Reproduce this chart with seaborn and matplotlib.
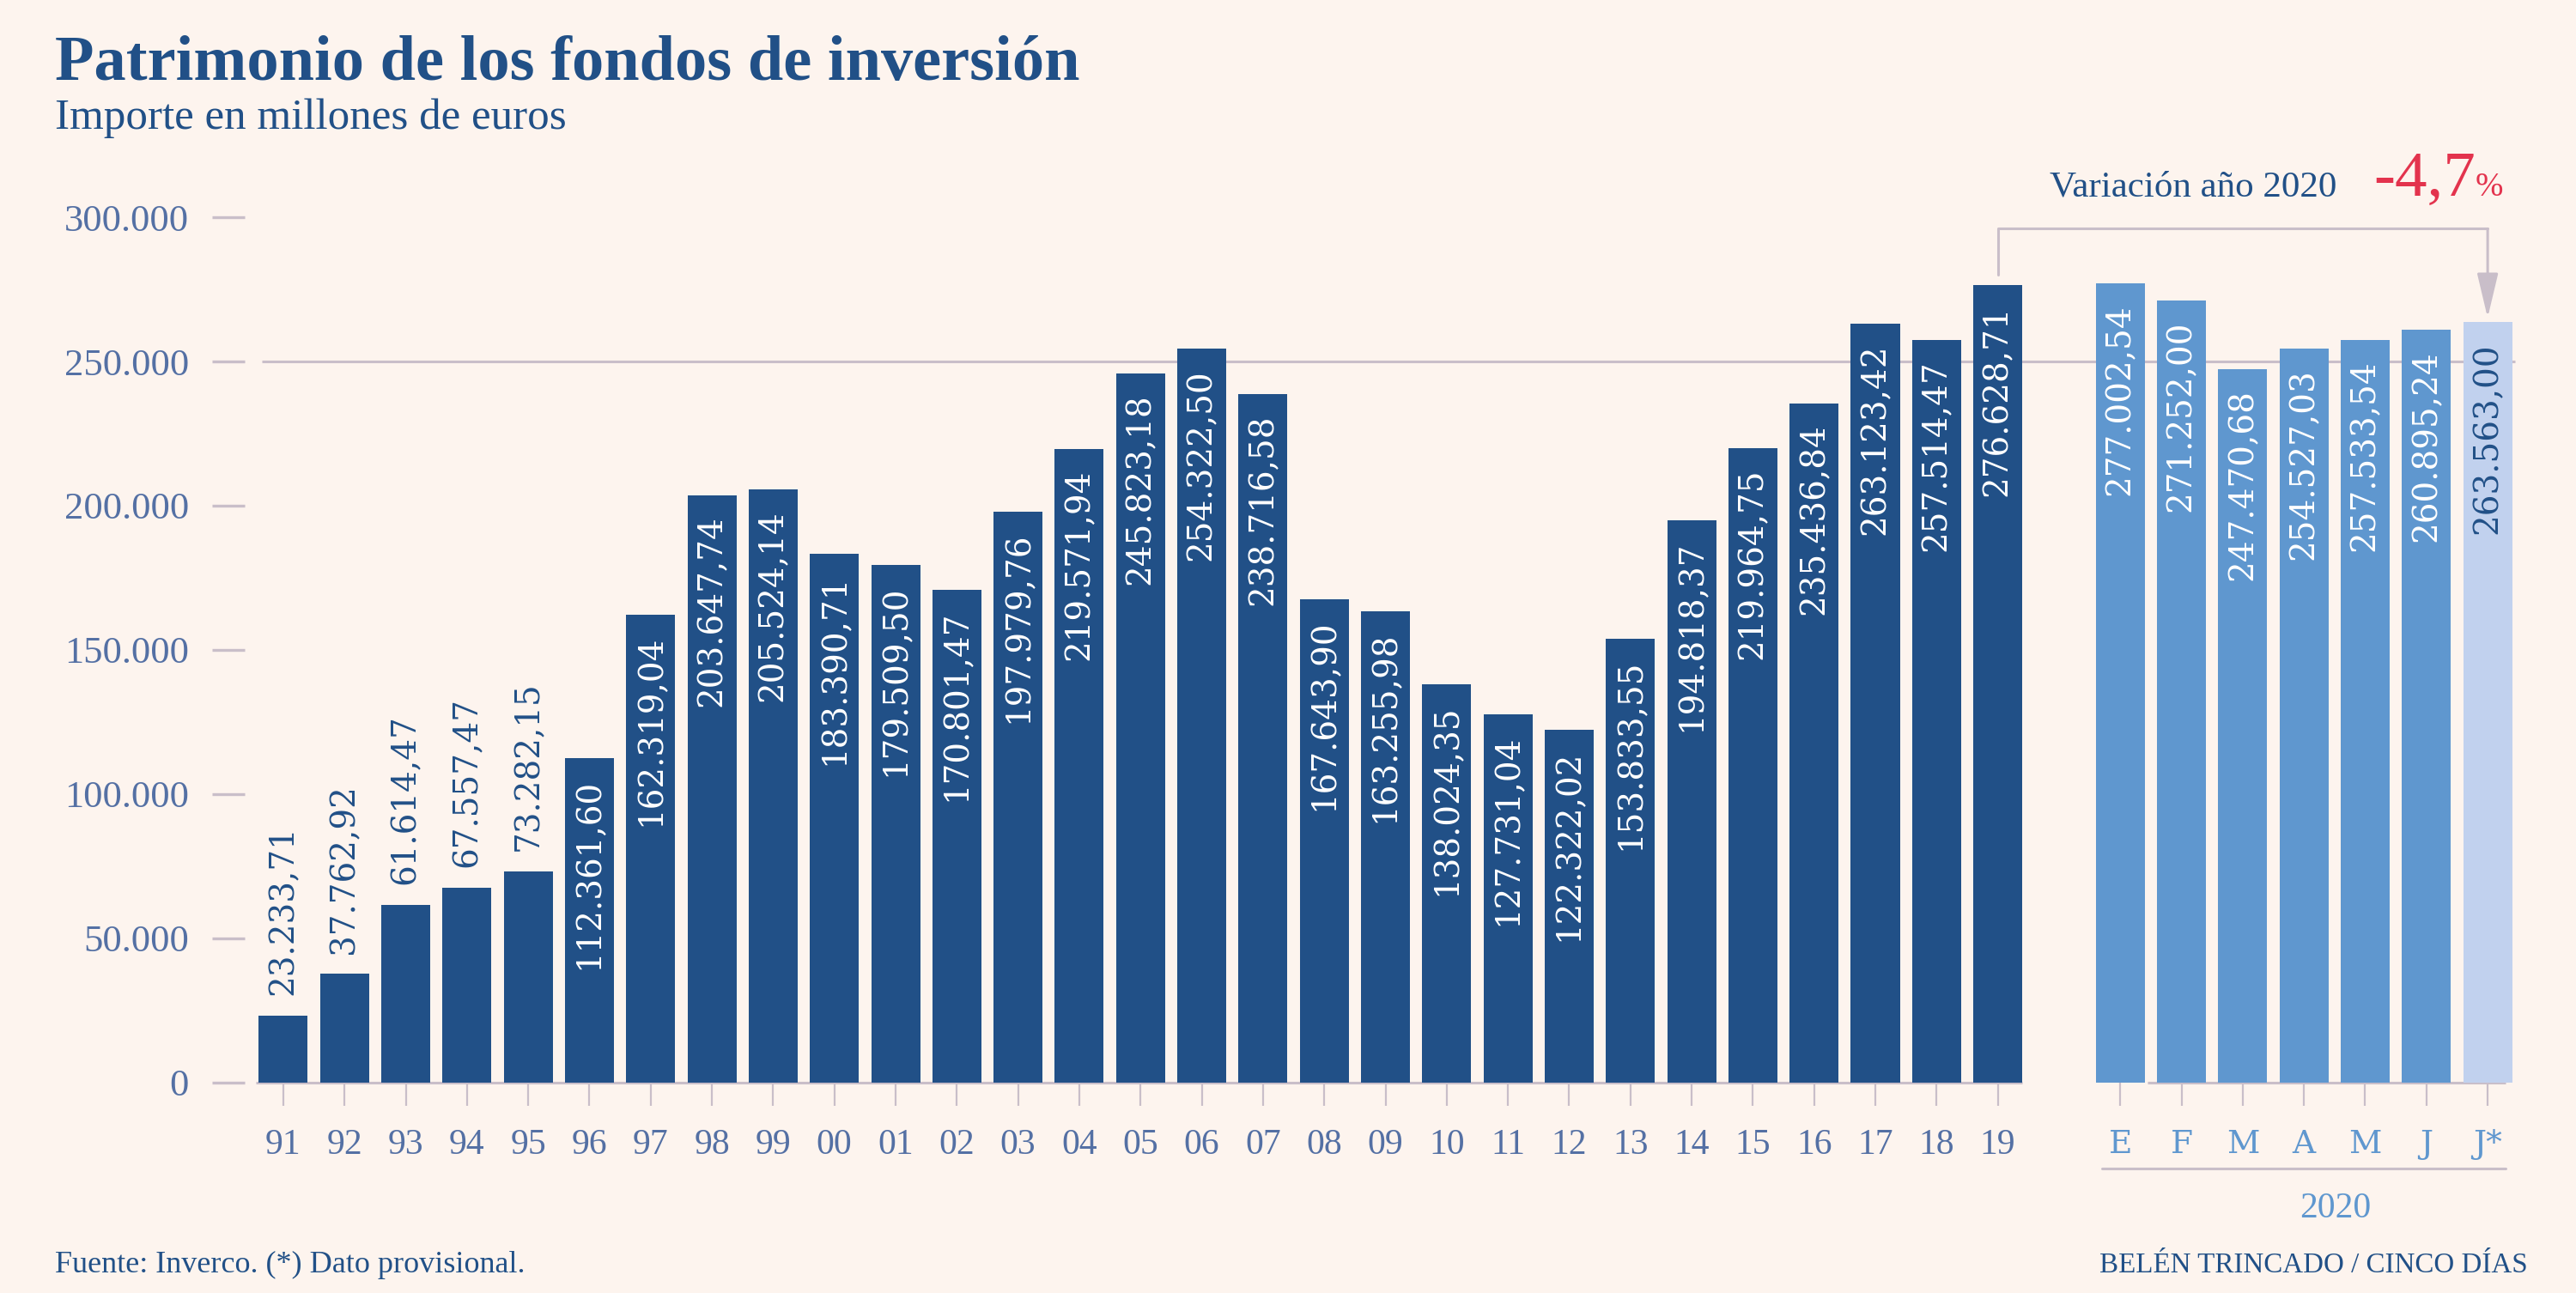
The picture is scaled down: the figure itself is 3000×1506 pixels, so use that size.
import numpy as np
import pandas as pd
import seaborn as sns
import matplotlib.pyplot as plt

# datos: patrimonio de los fondos de inversión (millones de euros)
years = ['91', '92', '93', '94', '95', '96', '97', '98', '99', '00',
         '01', '02', '03', '04', '05', '06', '07', '08', '09', '10',
         '11', '12', '13', '14', '15', '16', '17', '18', '19']
year_values = [23233.71, 37762.92, 61614.47, 67557.47, 73282.15, 112361.60,
               162319.04, 203647.74, 205524.14, 183390.71, 179509.50,
               170801.47, 197979.76, 219571.94, 245823.18, 254322.50,
               238716.58, 167643.90, 163255.98, 138024.35, 127731.04,
               122322.02, 153833.55, 194818.37, 219964.75, 235436.84,
               263123.42, 257514.47, 276628.71]
months = ['E', 'F', 'M', 'A', 'M', 'J', 'J*']
month_values = [277002.54, 271252.00, 247470.68, 254527.03, 257533.54,
                260895.24, 263563.00]
month_groups = ['2020', '2020', '2020', '2020', '2020', '2020', 'prov']
yticks = [0, 50000, 100000, 150000, 200000, 250000, 300000]

bg = '#fdf4ee'
dark = '#215087'
mid = '#5f97cf'
light = '#c1d1ee'
grey = '#c9bec9'
tick_blue = '#5470a4'
red = '#e3334d'


def es(v, dec=2):
    s = f"{v:,.{dec}f}"
    return s.replace(',', 'X').replace('.', ',').replace('X', '.')


n = len(years)
df = pd.DataFrame({
    'pos': list(range(n)) + [n + 1 + i for i in range(len(months))],
    'label': years + months,
    'value': year_values + month_values,
    'grupo': ['anual'] * n + month_groups,
})

sns.set_style('white')
plt.rcParams['font.family'] = ['Liberation Serif', 'DejaVu Serif']

fig = plt.figure(figsize=(15, 7.53), dpi=200, facecolor=bg)
ax = fig.add_axes([0.095, 0.1627, 0.8833, 0.6693])
ax.set_facecolor(bg)

sns.barplot(data=df, x='pos', y='value', hue='grupo',
            palette={'anual': dark, '2020': mid, 'prov': light},
            native_scale=True, dodge=False, width=0.8, saturation=1,
            errorbar=None, legend=False, ax=ax, zorder=2, linewidth=0)

# etiquetas de valor en vertical
gap = 7000
for pos, val, grp in zip(df.pos, df.value, df.grupo):
    if val < 80000:
        ax.text(pos, val + gap, es(val), rotation=90, ha='center', va='bottom',
                color=dark, family='DejaVu Serif', size=14, zorder=3)
    else:
        ax.text(pos, val - gap, es(val), rotation=90, ha='center', va='top',
                color=dark if grp == 'prov' else 'white',
                family='DejaVu Serif', size=14, zorder=3)

ax.set_ylim(0, 300000)
ax.set_xlim(-0.63, 36.53)
ax.set_yticks(yticks, [es(t, 0) for t in yticks])
ax.set_xticks(df.pos, df.label)
ax.set_xlabel('')
ax.set_ylabel('')
ax.tick_params(axis='x', bottom=True, length=9.7, width=0.8, color=grey,
               pad=9.7, labelsize=15, labelcolor=tick_blue, direction='out')
ax.tick_params(axis='y', left=True, length=13.7, width=1.2, color=grey,
               pad=9.7, labelsize=16, labelcolor=tick_blue, direction='out')
for lab, grp in zip(ax.get_xticklabels(), df.grupo):
    if grp != 'anual':
        lab.set_color(mid)
        lab.set_family('DejaVu Serif')
        lab.set_fontsize(13.5)
sns.despine(ax=ax, left=True, bottom=True)

# líneas base y rejilla
ax.hlines(0, -0.45, n - 0.6, color=grey, lw=1.1, zorder=1, clip_on=False)
ax.hlines(0, n + 1.45, df.pos.iloc[-1] + 0.3, color=grey, lw=1.1, zorder=1, clip_on=False)
ax.hlines(250000, -0.35, 36.45, color=grey, lw=1.1, zorder=1)

# corchete de variación
p19, v19 = n - 1, year_values[-1]
pj, vj = df.pos.iloc[-1], month_values[-1]
y_top = 296000
ax.plot([p19, p19, pj], [v19 + 3500, y_top, y_top], color=grey, lw=1.1,
        clip_on=False, zorder=1)
ax.annotate('', xy=(pj, vj + 1600), xytext=(pj, y_top),
            arrowprops=dict(arrowstyle='-|>,head_length=1.6,head_width=0.38',
                            color=grey, lw=1.1, shrinkA=0, shrinkB=0),
            annotation_clip=False)

# línea bajo los meses
ax.plot([n + 0.7, df.pos.iloc[-1] + 0.3], [-0.0992, -0.0992],
        transform=ax.get_xaxis_transform(), color=grey, lw=1.1, clip_on=False)
fig.text(0.9067, 0.065, '2020', ha='center', va='center', color=mid, size=15)

# textos
fig.text(0.0213, 0.9382, 'Patrimonio de los fondos de inversión', va='baseline',
         color=dark, size=26.8, weight='bold')
fig.text(0.0213, 0.9004, 'Importe en millones de euros', va='baseline',
         color=dark, size=18.4)
fig.text(0.7957, 0.8486, 'Variación año 2020', va='baseline', color=dark, size=15.5)
fig.text(0.9213, 0.8486, '-4,7', va='baseline', color=red, size=27)
fig.text(0.961, 0.8486, '%', va='baseline', color=red, size=14)
fig.text(0.0213, 0.016, 'Fuente: Inverco. (*) Dato provisional.', va='baseline',
         color=dark, size=13)
fig.text(0.9813, 0.016, 'BELÉN TRINCADO / CINCO DÍAS', va='baseline', ha='right',
         color=dark, size=11.9)

fig.savefig('out.png', dpi=200, facecolor=bg)
